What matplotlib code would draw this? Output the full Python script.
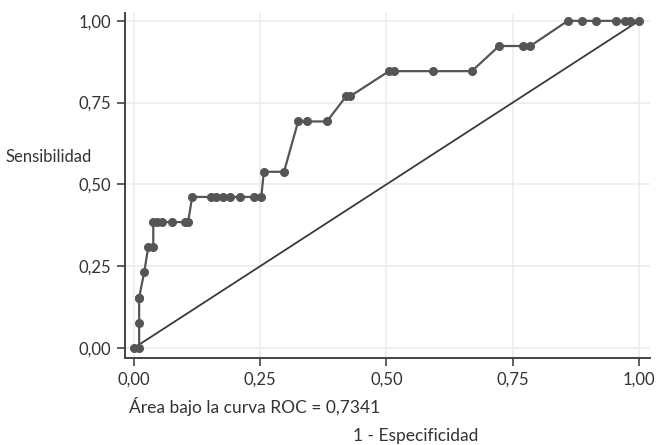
import numpy as np
import matplotlib.pyplot as plt

plt.rcParams['font.family'] = ['Lato', 'DejaVu Sans']

# puntos de la curva ROC (1 - especificidad, sensibilidad)
fpr = [0.000, 0.010, 0.010, 0.010, 0.010, 0.020, 0.028, 0.038,
       0.038, 0.045, 0.055, 0.075, 0.100, 0.107,
       0.115, 0.152, 0.162, 0.176, 0.190, 0.210, 0.238, 0.252,
       0.257, 0.297, 0.325, 0.343, 0.382, 0.420, 0.428,
       0.505, 0.515, 0.592, 0.669, 0.723, 0.770, 0.785,
       0.859, 0.887, 0.915, 0.954, 0.972, 0.982, 1.000]
n_pos = [0, 0, 1, 2, 2, 3, 4, 4,
         5, 5, 5, 5, 5, 5,
         6, 6, 6, 6, 6, 6, 6, 6,
         7, 7, 9, 9, 9, 10, 10,
         11, 11, 11, 11, 12, 12, 12,
         13, 13, 13, 13, 13, 13, 13]
sens = np.array(n_pos) / 13

xticks = [0, 0.25, 0.5, 0.75, 1]
tick_labels = ["0,00", "0,25", "0,50", "0,75", "1,00"]
auc_text = "Área bajo la curva ROC = 0,7341"

fig = plt.figure(figsize=(6.6, 4.45), dpi=100)
ax = fig.add_axes([125/660, 1 - 358/445, (650 - 125)/660, (358 - 13)/445])

ax.grid(True, color="#ececec", linewidth=1.2)
ax.set_axisbelow(True)

ax.plot([0, 1], [0, 1], color="#3a3a3a", linewidth=1.3)
ax.plot(fpr, sens, color="#555555", linewidth=1.6, marker="o",
        markersize=5.5, markerfacecolor="#555555", markeredgecolor="#555555")

ax.set_xlim(-0.018, 1.022)
ax.set_ylim(-0.031, 1.024)
ax.set_xticks(xticks)
ax.set_xticklabels(tick_labels)
ax.set_yticks(xticks)
ax.set_yticklabels(tick_labels)

ax.spines.top.set_visible(False)
ax.spines.right.set_visible(False)
for s in ["left", "bottom"]:
    ax.spines[s].set_color("#444444")
    ax.spines[s].set_linewidth(1.4)
ax.tick_params(direction="out", length=6, width=1.2, color="#444444",
               labelsize=12, labelcolor="#333333", pad=4)

fig.text(6/660, 1 - 157/445, "Sensibilidad", fontsize=12, color="#333333",
         ha="left", va="center")
fig.text(129/660, 1 - 406/445, auc_text, fontsize=12.5, color="#333333",
         ha="left", va="center")
fig.text(416/660, 1 - 436/445, "1 - Especificidad", fontsize=12.5,
         color="#333333", ha="center", va="center")

fig.savefig("out.png", dpi=100)
